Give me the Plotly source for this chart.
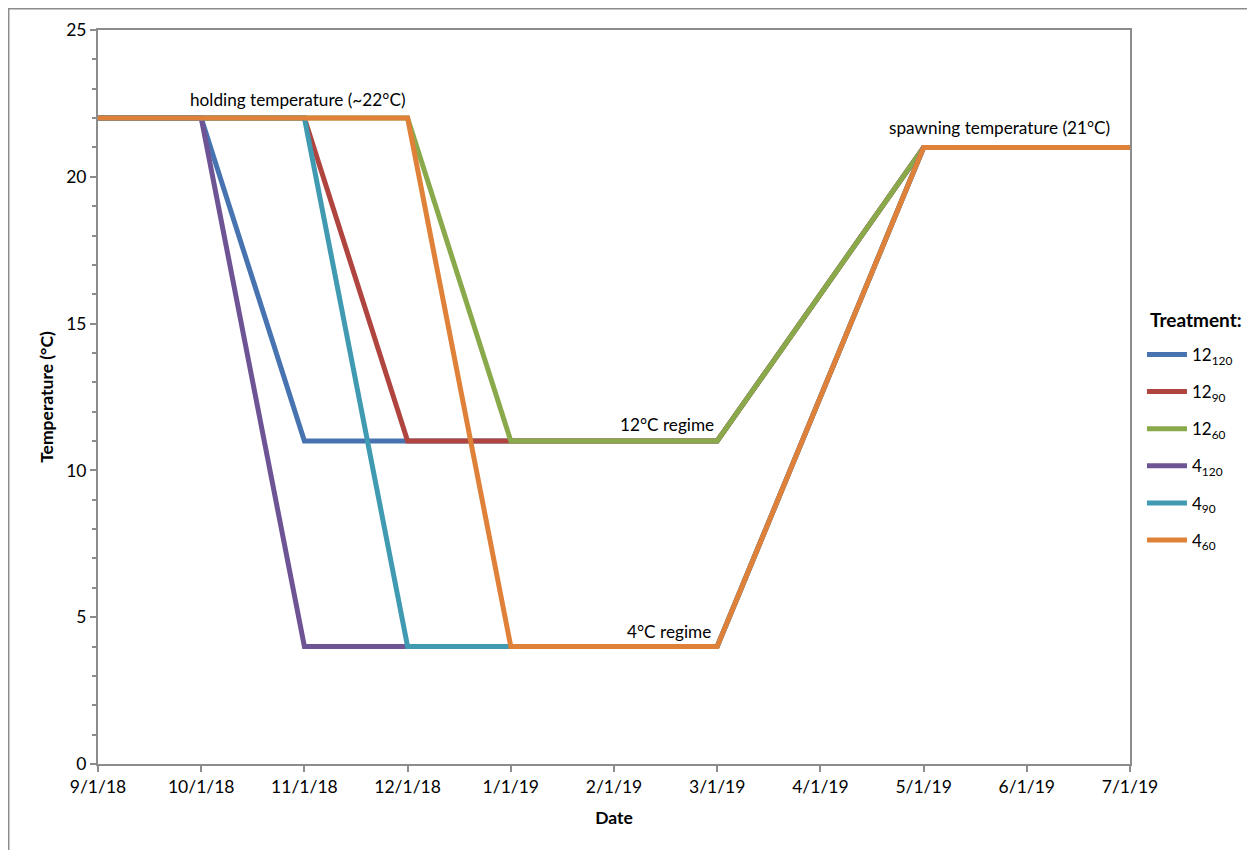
import plotly.graph_objects as go

dates = ["9/1/18", "10/1/18", "11/1/18", "12/1/18", "1/1/19", "2/1/19",
         "3/1/19", "4/1/19", "5/1/19", "6/1/19", "7/1/19"]

t12_120 = [22, 22, 11, 11, 11, 11, 11, None, 21, 21, 21]
t12_90  = [22, 22, 22, 11, 11, 11, 11, None, 21, 21, 21]
t12_60  = [22, 22, 22, 22, 11, 11, 11, None, 21, 21, 21]
t4_120  = [22, 22, 4, 4, 4, 4, 4, None, 21, 21, 21]
t4_90   = [22, 22, 22, 4, 4, 4, 4, None, 21, 21, 21]
t4_60   = [22, 22, 22, 22, 4, 4, 4, None, 21, 21, 21]

names = ["12<sub>120</sub>", "12<sub>90</sub>", "12<sub>60</sub>",
         "4<sub>120</sub>", "4<sub>90</sub>", "4<sub>60</sub>"]
series = [t12_120, t12_90, t12_60, t4_120, t4_90, t4_60]
colors = ["#4774B0", "#B0453F", "#8AA94A", "#6E5494", "#3F9AB2", "#E0813A"]

FONT = "Lato"
fig = go.Figure()
for i, (nm, ys, c) in enumerate(zip(names, series, colors)):
    fig.add_trace(go.Scatter(x=dates, y=ys, name=nm, mode="lines", connectgaps=True,
                             line=dict(color=c, width=5), legendgroup=str(i)))

ax_col = "#8C8C8C"
fig.update_layout(
    width=1247, height=842,
    margin=dict(l=90, r=125, t=22, b=86),
    paper_bgcolor="white", plot_bgcolor="white",
    font=dict(family=FONT, size=17, color="black"),
    showlegend=True,
    legend=dict(x=1.0116, y=0.5818, xanchor="left", yanchor="top",
                font=dict(size=17), tracegroupgap=12, itemwidth=40),
    xaxis=dict(type="category", range=[0, 10], showgrid=False,
               showline=True, linecolor=ax_col, linewidth=2, mirror=True,
               ticks="outside", ticklen=6, tickcolor=ax_col, tickwidth=2,
               title=dict(text="<b>Date</b>", font=dict(size=17.5), standoff=16),
               tickfont=dict(size=17.5)),
    yaxis=dict(range=[0, 25], dtick=5, showgrid=False, zeroline=False,
               showline=True, linecolor=ax_col, linewidth=2, mirror=True,
               ticks="outside", ticklen=6, tickcolor=ax_col, tickwidth=2,
               minor=dict(dtick=1, ticks="outside", ticklen=4, tickcolor=ax_col, tickwidth=1.5),
               title=dict(text="<b>Temperature (°C)</b>", font=dict(size=17.5), standoff=8),
               tickfont=dict(size=17.5)),
)

ann = [("holding temperature (~22°C)", 1.93, 22.65),
       ("12°C regime", 5.51, 11.55),
       ("4°C regime", 5.53, 4.53),
       ("spawning temperature (21°C)", 8.74, 21.68)]
for txt, x, y in ann:
    fig.add_annotation(text=txt, x=x, y=y, xref="x", yref="y", showarrow=False,
                       font=dict(size=17.2, family=FONT))

fig.add_annotation(text="<b>Treatment:</b>", x=1.0174, y=0.606, xref="paper", yref="paper",
                   xanchor="left", yanchor="middle", showarrow=False,
                   font=dict(size=19, family=FONT))

fig.add_shape(type="rect", xref="paper", yref="paper",
              x0=-0.0865, x1=1.1192, y0=-0.2, y1=1.029,
              line=dict(color="#8C8C8C", width=1.5), layer="below")

fig.write_html("out.html")
